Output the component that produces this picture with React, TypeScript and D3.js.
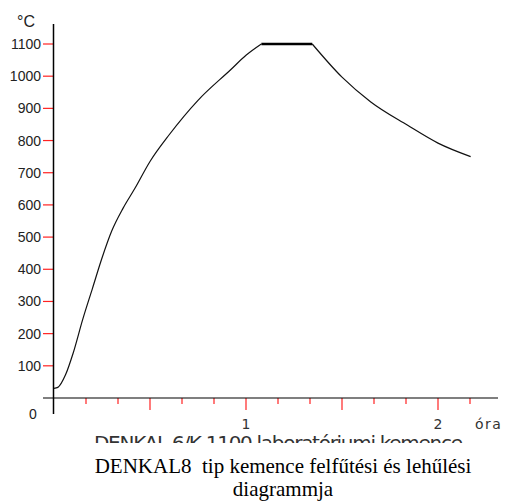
import React from "react";
import * as d3 from "d3";

// heating / holding / cooling curve, hours vs °C
const heatHours = [0, 0.02, 0.06, 0.1, 0.15, 0.2, 0.25, 0.3, 0.36, 0.42, 0.5, 0.6, 0.75, 0.92, 1.0, 1.08];
const heatTemps = [30, 33, 72, 140, 245, 340, 435, 518, 590, 650, 735, 818, 925, 1020, 1065, 1100];
const holdHours = [1.08, 1.345];
const holdTemps = [1100, 1100];
const coolHours = [1.345, 1.5, 1.65, 1.84, 2.0, 2.17];
const coolTemps = [1100, 997, 920, 848, 792, 750];

const yTicks = [100, 200, 300, 400, 500, 600, 700, 800, 900, 1000, 1100];
const xTicks = d3.range(1, 14).map(i => i / 6);
const xLabels = [1, 2];

const W = 508;
const H = 502;

const zip = (xs: number[], ys: number[]) => xs.map((x, i) => [x, ys[i]] as [number, number]);

export default function App() {
    const x = d3.scaleLinear().domain([0, 1]).range([54, 246]);
    const y = d3.scaleLinear().domain([0, 1100]).range([398, 44]);

    const line = d3.line<[number, number]>()
        .x(d => x(d[0]))
        .y(d => y(d[1]))
        .curve(d3.curveMonotoneX);

    const flat = d3.line<[number, number]>().x(d => x(d[0])).y(d => y(d[1]));

    const isLong = (t: number) => Math.abs(t * 2 - Math.round(t * 2)) < 1e-6;

    return (
        <svg width={W} height={H} style={{ position: "absolute", left: 0, top: 0 }}>
            <defs>
                <clipPath id="cut">
                    <rect x={0} y={0} width={W} height={443} />
                </clipPath>
            </defs>
            <rect width={W} height={H} fill="white" />

            {/* y ticks + labels */}
            <g fontFamily="Liberation Sans, Arial, sans-serif" fontSize={14} fill="#222">
                {yTicks.map(t => (
                    <g key={t}>
                        <line x1={43} x2={53} y1={y(t)} y2={y(t)} stroke="#f22" strokeWidth={1.2} />
                        <text x={41} y={y(t)} dy="0.36em" textAnchor="end">{t}</text>
                    </g>
                ))}
                <text x={33} y={419} textAnchor="middle">0</text>
                <text x={17} y={27} fontSize={16}>°C</text>
            </g>

            {/* x ticks + labels */}
            {xTicks.map(t => (
                <line key={t} x1={x(t)} x2={x(t)} y1={398} y2={isLong(t) ? 410 : 404}
                    stroke="#f22" strokeWidth={1.2} />
            ))}
            <g fontFamily="DejaVu Sans, sans-serif" fontSize={14} fill="#333">
                {xLabels.map(t => (
                    <text key={t} x={x(t)} y={429} textAnchor="middle">{t}</text>
                ))}
                <text x={475} y={429} letterSpacing={1.5}>óra</text>
            </g>

            {/* axes */}
            <line x1={53.5} x2={53.5} y1={24} y2={414} stroke="#000" strokeWidth={1.5} />
            <line x1={43} x2={498} y1={398} y2={398} stroke="#000" strokeWidth={1.2} />

            {/* curve */}
            <path d={line(zip(heatHours, heatTemps)) ?? ""} fill="none" stroke="#111" strokeWidth={1.2} />
            <path d={flat(zip(holdHours, holdTemps)) ?? ""} fill="none" stroke="#000" strokeWidth={2.5} />
            <path d={line(zip(coolHours, coolTemps)) ?? ""} fill="none" stroke="#111" strokeWidth={1.2} />

            {/* half-hidden original subtitle */}
            <text x={94} y={450} fontFamily="DejaVu Sans, sans-serif" fontSize={20} fill="#333"
                textLength={369} lengthAdjust="spacing" clipPath="url(#cut)">
                DENKAL  6/K  1100  laboratóriumi  kemence
            </text>

            {/* caption */}
            <g fontFamily="Liberation Serif, Times New Roman, serif" fontSize={21} fill="#000" textAnchor="middle">
                <text x={283} y={473} style={{ whiteSpace: "pre" }}>DENKAL8  tip kemence felfűtési és lehűlési</text>
                <text x={283} y={496}>diagrammja</text>
            </g>
        </svg>
    );
}
